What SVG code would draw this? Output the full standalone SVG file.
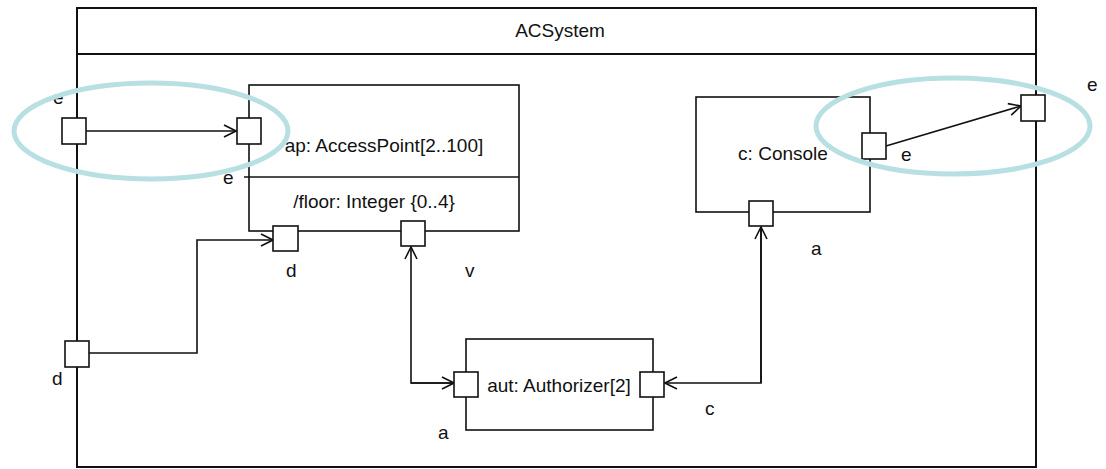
<svg xmlns="http://www.w3.org/2000/svg" width="1106" height="469" viewBox="0 0 1106 469">
<style>
text{font-family:"Liberation Sans",Arial,sans-serif;font-size:19px;fill:#111}
.box{fill:#fff;stroke:#111;stroke-width:1.6}
.frame{fill:#fff;stroke:#111;stroke-width:2}
.port{fill:#fff;stroke:#111;stroke-width:1.6}
.conn{fill:none;stroke:#111;stroke-width:1.6}
.hl{fill:none;stroke:#b8dfe2;stroke-width:5}
</style>
<defs>
<marker id="open" viewBox="0 0 14 14" refX="13" refY="7" markerWidth="14" markerHeight="14" markerUnits="userSpaceOnUse" orient="auto">
<path d="M1,1 L13,7 L1,13" fill="none" stroke="#111" stroke-width="1.6"/>
</marker>
</defs>
<g id="ACSystem">
<rect class="frame" x="77" y="8" width="959" height="459"/>
<line x1="77" y1="54" x2="1036" y2="54" stroke="#111" stroke-width="2"/>
<text x="560" y="37" text-anchor="middle">ACSystem</text>
</g>
<g id="ap">
<rect class="box" x="249" y="85" width="270" height="146"/>
<line x1="244" y1="177" x2="519" y2="177" stroke="#111" stroke-width="1.6"/>
<text x="384" y="152" text-anchor="middle">ap: AccessPoint[2..100]</text>
<text x="374" y="208" text-anchor="middle">/floor: Integer {0..4}</text>
</g>
<g id="console">
<rect class="box" x="696" y="97" width="174" height="115"/>
<text x="783" y="160" text-anchor="middle">c: Console</text>
</g>
<g id="aut">
<rect class="box" x="466" y="339" width="187" height="91"/>
<text x="559" y="392" text-anchor="middle">aut: Authorizer[2]</text>
</g>
<g id="connectors">
<line class="conn" x1="86" y1="131" x2="236" y2="131" marker-end="url(#open)"/>
<polyline class="conn" points="89,353 197,353 197,240 273,240" marker-end="url(#open)"/>
<polyline class="conn" points="454,383 411,383 411,247" marker-end="url(#open)"/>
<line class="conn" x1="411" y1="383" x2="454" y2="383" marker-end="url(#open)"/>
<polyline class="conn" points="761,227 761,383 665,383" marker-end="url(#open)"/>
<line class="conn" x1="761" y1="383" x2="761" y2="227" marker-end="url(#open)"/>
<line class="conn" x1="886" y1="146" x2="1021" y2="106" marker-end="url(#open)"/>
</g>
<g id="ports">
<rect id="port-frame-e" class="port" x="62" y="118" width="24" height="26"/>
<rect id="port-ap-e" class="port" x="237" y="118" width="24" height="26"/>
<rect id="port-frame-d" class="port" x="65" y="341" width="24" height="26"/>
<rect id="port-ap-d" class="port" x="273" y="226" width="25" height="25"/>
<rect id="port-ap-v" class="port" x="401" y="221" width="24" height="25"/>
<rect id="port-aut-a" class="port" x="454" y="372" width="24" height="25"/>
<rect id="port-aut-c" class="port" x="640" y="372" width="24" height="25"/>
<rect id="port-console-a" class="port" x="749" y="201" width="24" height="25"/>
<rect id="port-console-e" class="port" x="862" y="133" width="24" height="26"/>
<rect id="port-frame-e2" class="port" x="1021" y="95" width="24" height="26"/>
</g>
<g id="labels">
<text x="53" y="104">e</text>
<text x="223" y="184">e</text>
<text x="52" y="385">d</text>
<text x="286" y="277">d</text>
<text x="465" y="277">v</text>
<text x="438" y="439">a</text>
<text x="705" y="415">c</text>
<text x="811" y="255">a</text>
<text x="901" y="161">e</text>
<text x="1087" y="91">e</text>
</g>
<g id="highlights">
<ellipse class="hl" cx="151" cy="131" rx="137" ry="48"/>
<ellipse class="hl" cx="953" cy="126" rx="137" ry="48"/>
</g>
</svg>
